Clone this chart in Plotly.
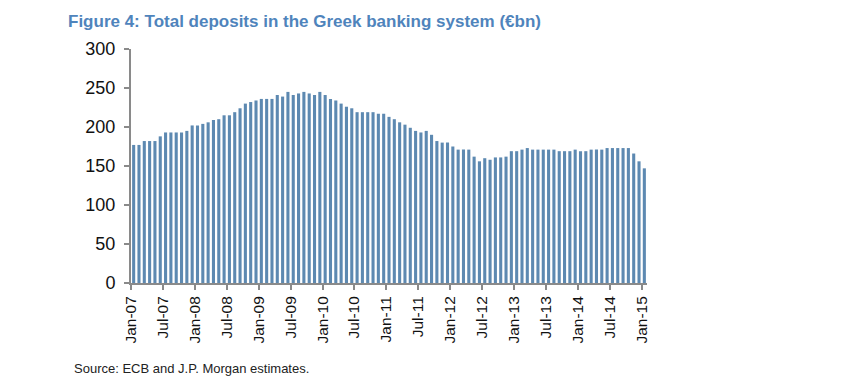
import plotly.graph_objects as go

# Monthly categories Jan-07 .. Jan-15
month_names = ["Jan", "Feb", "Mar", "Apr", "May", "Jun",
               "Jul", "Aug", "Sep", "Oct", "Nov", "Dec"]
months = [f"{m}-{y:02d}" for y in range(7, 16) for m in month_names][:97]

# Total deposits (EUR bn)
deposits = [
    177, 177, 182, 182, 182, 188, 193, 193, 193, 193, 195, 202,   # 2007
    202, 204, 206, 209, 210, 215, 215, 219, 224, 230, 232, 234,   # 2008
    236, 236, 236, 241, 239, 245, 241, 243, 245, 243, 241, 245,   # 2009
    241, 236, 234, 230, 226, 224, 219, 219, 219, 219, 217, 217,   # 2010
    213, 210, 206, 203, 199, 195, 193, 195, 190, 182, 180, 180,   # 2011
    175, 171, 171, 171, 162, 156, 160, 158, 161, 161, 162, 169,   # 2012
    169, 171, 173, 171, 171, 171, 171, 171, 169, 169, 169, 171,   # 2013
    169, 169, 171, 171, 171, 173, 173, 173, 173, 173, 166, 156,   # 2014
    147,                                                           # Jan-15
]

tick_labels = ["Jan-07", "Jul-07", "Jan-08", "Jul-08", "Jan-09", "Jul-09",
               "Jan-10", "Jul-10", "Jan-11", "Jul-11", "Jan-12", "Jul-12",
               "Jan-13", "Jul-13", "Jan-14", "Jul-14", "Jan-15"]
tick_idx = [months.index(t) for t in tick_labels]

y_ticks = [0, 50, 100, 150, 200, 250, 300]

FONT = "Liberation Sans Narrow, Arial Narrow, Liberation Sans, Arial, sans-serif"

W, H = 843, 382          # page has an 8px body margin
L, R, T, B = 123, 204, 41, 107
PW, PH = W - L - R, H - T - B

fig = go.Figure(
    go.Bar(
        x=list(range(len(months))),
        y=deposits,
        width=0.58,
        marker=dict(color="#5d89b1", line=dict(width=0)),
        hovertext=months,
    )
)

fig.update_layout(
    width=W,
    height=H,
    margin=dict(l=L, r=R, t=T, b=B),
    paper_bgcolor="white",
    plot_bgcolor="white",
    showlegend=False,
    title=dict(
        text="<b>Figure 4: Total deposits in the Greek banking system (€bn)</b>",
        x=60 / W, xanchor="left",
        y=1 - 13 / H, yanchor="middle",
        font=dict(family=FONT, size=17, color="#4f84bc"),
    ),
    annotations=[
        dict(
            text="Source: ECB and J.P. Morgan estimates.",
            xref="paper", yref="paper",
            x=(64 - L) / PW, y=-(360 - (H - B)) / PH,
            xanchor="left", yanchor="middle",
            showarrow=False,
            font=dict(family="Liberation Sans, Arial, sans-serif", size=13, color="#222222"),
        )
    ],
)

fig.update_xaxes(
    range=[-0.5, len(months) - 0.5],
    tickmode="array",
    tickvals=[i - 0.5 for i in tick_idx],
    ticktext=tick_labels,
    tickangle=-90,
    ticks="outside",
    ticklen=5,
    tickwidth=1.5,
    tickcolor="#8a8a8a",
    showline=True,
    linecolor="#8a8a8a",
    linewidth=2,
    showgrid=False,
    zeroline=False,
    tickfont=dict(family=FONT, size=15.5, color="#111111"),
)

fig.update_yaxes(
    range=[0, 300],
    tickmode="array",
    tickvals=y_ticks,
    ticks="outside",
    ticklen=5,
    tickwidth=1.5,
    tickcolor="#8a8a8a",
    showline=True,
    linecolor="#8a8a8a",
    linewidth=2,
    showgrid=False,
    zeroline=False,
    ticklabelstandoff=5,
    tickfont=dict(family=FONT, size=18, color="#111111"),
)

fig.write_html("out.html")
